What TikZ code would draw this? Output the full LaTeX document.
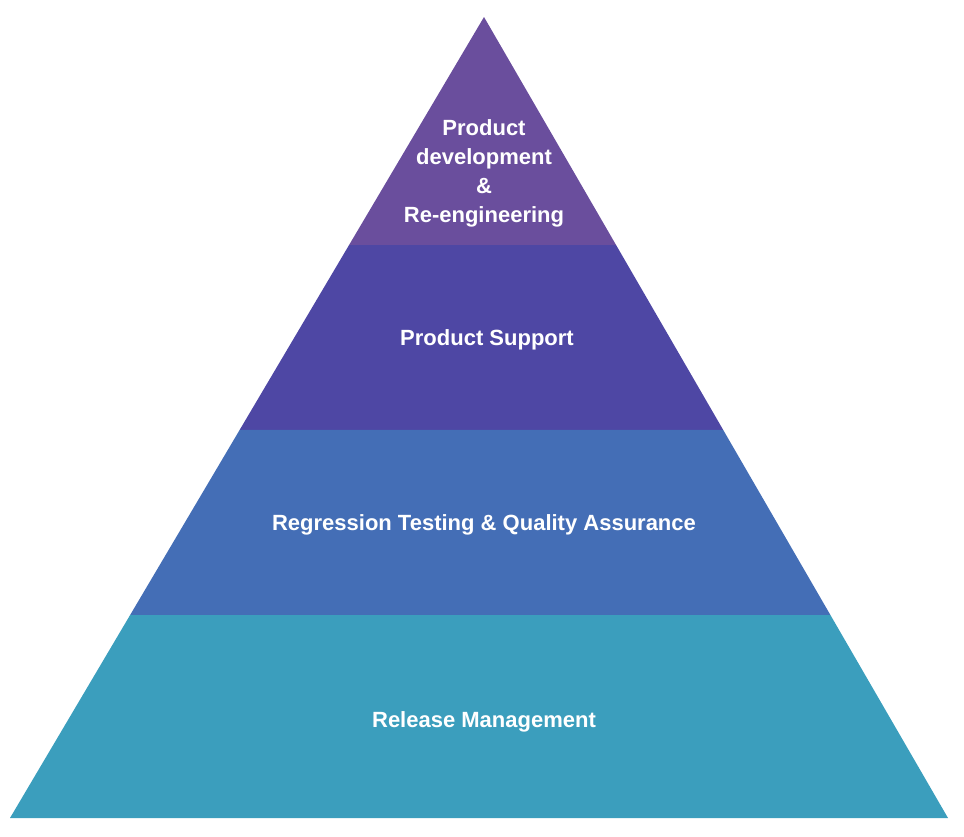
\documentclass[tikz,border=0pt]{standalone}
\usepackage{fontspec}
\setmainfont{Liberation Sans}
\usetikzlibrary{calc}
\begin{document}
\begin{tikzpicture}[x=1pt,y=-1pt,
  lbl/.style={text=white,font=\bfseries\fontsize{22}{29}\selectfont,align=center}]
\definecolor{tierA}{HTML}{6A4E9D}
\definecolor{tierB}{HTML}{4E47A4}
\definecolor{tierC}{HTML}{446EB6}
\definecolor{tierD}{HTML}{3B9EBD}
\useasboundingbox (0,0) rectangle (964,836);
% apex and base
\coordinate (apex) at (484,17);
\coordinate (bl) at (10,818);
\coordinate (br) at (948,818);
% boundary points
\coordinate (l1) at ($(apex)!228/801!(bl)$);
\coordinate (r1) at ($(apex)!228/801!(br)$);
\coordinate (l2) at ($(apex)!413/801!(bl)$);
\coordinate (r2) at ($(apex)!413/801!(br)$);
\coordinate (l3) at ($(apex)!598/801!(bl)$);
\coordinate (r3) at ($(apex)!598/801!(br)$);
\fill[black!12] ([yshift=1.5]bl) -- ([yshift=1.5]br) -- (br) -- (bl) -- cycle;
\fill[tierA] (apex) -- (r1) -- (l1) -- cycle;
\fill[tierB] (l1) -- (r1) -- (r2) -- (l2) -- cycle;
\fill[tierC] (l2) -- (r2) -- (r3) -- (l3) -- cycle;
\fill[tierD] (l3) -- (r3) -- (br) -- (bl) -- cycle;
\node[lbl] (t1) at (484,173) {Product\\development\\\&\\Re-engineering};
\node[lbl] (t2) at (487,340) {Product Support};
\node[lbl] (t3) at (484,525) {Regression Testing \& Quality Assurance};
\node[lbl] (t4) at (484,722) {Release Management};
\end{tikzpicture}
\end{document}
